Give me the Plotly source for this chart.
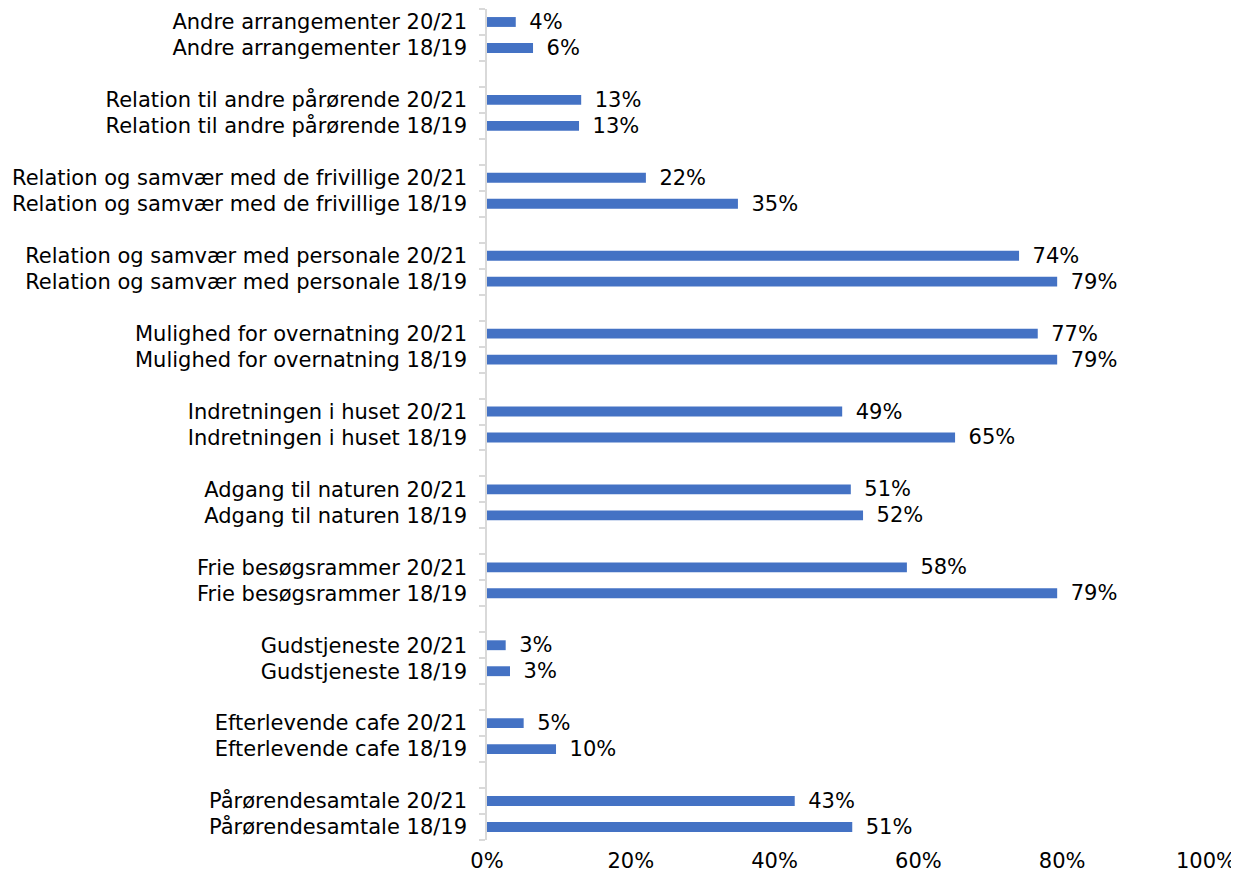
import plotly.graph_objects as go

# Groups listed bottom-to-top (Excel order); each has a 20/21 and 18/19 value
groups = [
    "Pårørendesamtale",
    "Efterlevende cafe",
    "Gudstjeneste",
    "Frie besøgsrammer",
    "Adgang til naturen",
    "Indretningen i huset",
    "Mulighed for overnatning",
    "Relation og samvær med personale",
    "Relation og samvær med de frivillige",
    "Relation til andre pårørende",
    "Andre arrangementer",
]
values_1819 = [50.8, 9.6, 3.2, 79.3, 52.3, 65.1, 79.3, 79.3, 34.9, 12.8, 6.4]
values_2021 = [42.8, 5.1, 2.6, 58.4, 50.6, 49.4, 76.6, 74.0, 22.1, 13.1, 4.0]
periods = ["18/19", "20/21"]
x_ticks = [0, 20, 40, 60, 80, 100]

cats, vals, texts = [], [], []
for i, g in enumerate(groups):
    if i > 0:
        cats.append("\u200b" * i)
        vals.append(None)
        texts.append("")
    for p, v in ((periods[0], values_1819[i]), (periods[1], values_2021[i])):
        cats.append(f"{g} {p}")
        vals.append(v)
        texts.append(f"\u2002{round(v):d}%")

FONT = "DejaVu Sans"
FS = 21
fig = go.Figure(
    go.Bar(
        x=vals,
        y=cats,
        orientation="h",
        marker=dict(color="#4472C4", line=dict(width=0)),
        text=texts,
        textposition="outside",
        constraintext="none",
        textfont=dict(family=FONT, size=FS, color="#000000"),
        cliponaxis=False,
        width=0.38,
        hoverinfo="skip",
    )
)
fig.update_layout(
    width=1231,
    height=870,
    margin=dict(l=479, r=33, t=1, b=38),
    plot_bgcolor="white",
    paper_bgcolor="white",
    showlegend=False,
    font=dict(family=FONT, size=FS, color="#000000"),
    xaxis=dict(
        range=[0, 100],
        tickvals=x_ticks,
        ticktext=[f"{t}%" for t in x_ticks],
        showgrid=False,
        zeroline=False,
        showline=False,
        ticks="",
        automargin=False,
        ticklabelstandoff=6,
        tickfont=dict(family=FONT, size=FS, color="#000000"),
    ),
    yaxis=dict(
        type="category",
        categoryorder="array",
        categoryarray=cats,
        range=[-0.5, len(cats) - 0.5],
        tickson="boundaries",
        ticks="outside",
        ticklen=6,
        tickcolor="#D9D9D9",
        tickwidth=1.5,
        showline=True,
        linecolor="#D9D9D9",
        linewidth=1.5,
        showgrid=False,
        automargin=False,
        ticklabelstandoff=14,
        tickfont=dict(family=FONT, size=FS, color="#000000"),
    ),
)
fig.write_html("out.html")
